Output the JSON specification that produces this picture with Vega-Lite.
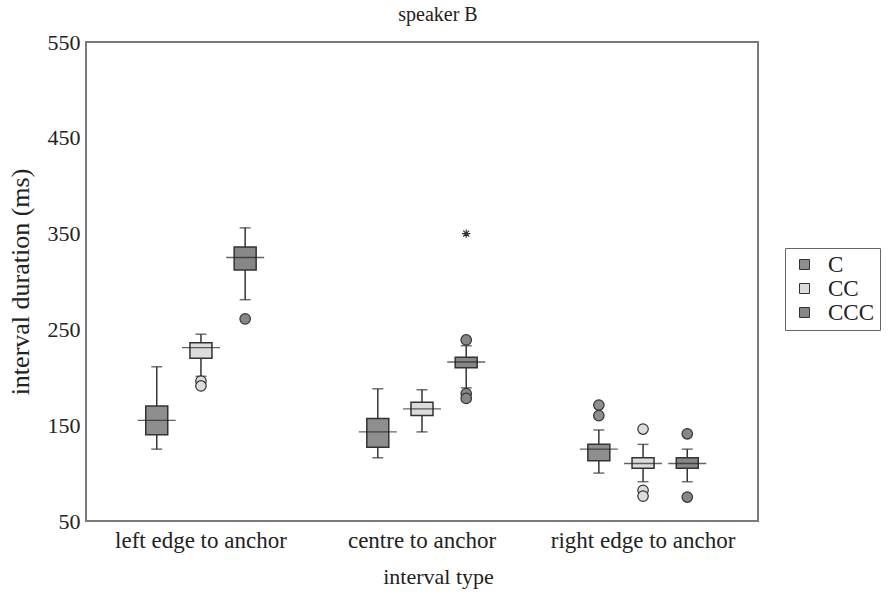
{
  "$schema": "https://vega.github.io/schema/vega-lite/v6.json",
  "width": 672,
  "height": 479,
  "autosize": {"type": "none"},
  "padding": {"left": 86, "top": 42, "right": 131, "bottom": 73},
  "background": "white",
  "title": {"text": "speaker B", "font": "Liberation Serif", "fontSize": 20, "fontWeight": "normal", "color": "#222", "offset": 6, "dx": 16},
  "datasets": {
    "boxes": [
      {"type": "left edge to anchor", "cat": "C", "lower": 125, "q1": 140, "median": 155, "q3": 170, "upper": 211},
      {"type": "left edge to anchor", "cat": "CC", "lower": 201, "q1": 220, "median": 231, "q3": 236, "upper": 245},
      {"type": "left edge to anchor", "cat": "CCC", "lower": 281, "q1": 312, "median": 325, "q3": 336, "upper": 356},
      {"type": "centre to anchor", "cat": "C", "lower": 116, "q1": 127, "median": 143, "q3": 157, "upper": 188},
      {"type": "centre to anchor", "cat": "CC", "lower": 143, "q1": 160, "median": 167, "q3": 174, "upper": 187},
      {"type": "centre to anchor", "cat": "CCC", "lower": 189, "q1": 210, "median": 216, "q3": 221, "upper": 233},
      {"type": "right edge to anchor", "cat": "C", "lower": 100, "q1": 113, "median": 125, "q3": 130, "upper": 145},
      {"type": "right edge to anchor", "cat": "CC", "lower": 91, "q1": 105, "median": 110, "q3": 116, "upper": 130},
      {"type": "right edge to anchor", "cat": "CCC", "lower": 91, "q1": 105, "median": 110, "q3": 116, "upper": 125}
    ],
    "outliers": [
      {"type": "left edge to anchor", "cat": "CC", "value": 196},
      {"type": "left edge to anchor", "cat": "CC", "value": 191},
      {"type": "left edge to anchor", "cat": "CCC", "value": 261},
      {"type": "centre to anchor", "cat": "CCC", "value": 239},
      {"type": "centre to anchor", "cat": "CCC", "value": 183},
      {"type": "centre to anchor", "cat": "CCC", "value": 178},
      {"type": "right edge to anchor", "cat": "C", "value": 171},
      {"type": "right edge to anchor", "cat": "C", "value": 160},
      {"type": "right edge to anchor", "cat": "CC", "value": 146},
      {"type": "right edge to anchor", "cat": "CC", "value": 82},
      {"type": "right edge to anchor", "cat": "CC", "value": 76},
      {"type": "right edge to anchor", "cat": "CCC", "value": 141},
      {"type": "right edge to anchor", "cat": "CCC", "value": 75}
    ],
    "extremes": [
      {"type": "centre to anchor", "cat": "CCC", "value": 350}
    ]
  },
  "encoding": {
    "x": {
      "field": "type", "type": "nominal",
      "sort": ["left edge to anchor", "centre to anchor", "right edge to anchor"],
      "scale": {"paddingInner": 0, "paddingOuter": 0.02},
      "title": "interval type",
      "axis": {"labelAngle": 0, "ticks": false, "domain": false, "labelPadding": 8, "titlePadding": 14,
               "labelLimit": 400, "titleX": 352,
               "labelFont": "Liberation Serif", "labelFontSize": 23, "labelColor": "#222",
               "titleFont": "Liberation Serif", "titleFontSize": 22, "titleFontWeight": "normal", "titleColor": "#222"}
    },
    "xOffset": {
      "field": "cat", "type": "nominal", "sort": ["C", "CC", "CCC"],
      "scale": {"paddingInner": 0, "paddingOuter": 1.07}
    }
  },
  "layer": [
    {
      "data": {"name": "boxes"},
      "mark": {"type": "rule", "color": "#333", "strokeWidth": 1.5},
      "encoding": {
        "y": {"field": "lower", "type": "quantitative"},
        "y2": {"field": "upper"}
      }
    },
    {
      "data": {"name": "boxes"},
      "mark": {"type": "tick", "color": "#333", "size": 11, "thickness": 1.5},
      "encoding": {"y": {"field": "lower", "type": "quantitative"}}
    },
    {
      "data": {"name": "boxes"},
      "mark": {"type": "tick", "color": "#333", "size": 11, "thickness": 1.5},
      "encoding": {"y": {"field": "upper", "type": "quantitative"}}
    },
    {
      "data": {"name": "boxes"},
      "mark": {"type": "bar", "width": 22, "stroke": "#333", "strokeWidth": 1.5},
      "encoding": {
        "y": {
          "field": "q1", "type": "quantitative",
          "scale": {"domain": [50, 550], "nice": false, "zero": false},
          "title": "interval duration (ms)",
          "axis": {"values": [50, 150, 250, 350, 450, 550], "grid": false, "ticks": false, "domain": false,
                   "labelPadding": 6, "titlePadding": 14,
                   "labelFont": "Liberation Serif", "labelFontSize": 22, "labelColor": "#222",
                   "titleFont": "Liberation Serif", "titleFontSize": 26, "titleFontWeight": "normal", "titleColor": "#222"}
        },
        "y2": {"field": "q3"},
        "fill": {
          "field": "cat", "type": "nominal",
          "scale": {"domain": ["C", "CC", "CCC"], "range": ["#8e8e8e", "#dcdcdc", "#878787"]},
          "legend": {
            "title": null, "orient": "none", "legendX": 699, "legendY": 206,
            "symbolType": "square", "symbolSize": 100, "symbolStrokeColor": "#333", "symbolStrokeWidth": 1,
            "symbolOffset": 3,
            "labelFont": "Liberation Serif", "labelFontSize": 23, "labelColor": "#222",
            "labelOffset": 12, "rowPadding": 0, "padding": 5, "strokeColor": "#666"
          }
        }
      }
    },
    {
      "data": {"name": "boxes"},
      "mark": {"type": "tick", "color": "#222", "size": 38, "thickness": 1.4},
      "encoding": {"y": {"field": "median", "type": "quantitative"}}
    },
    {
      "data": {"name": "outliers"},
      "mark": {"type": "point", "shape": "circle", "filled": true, "size": 110, "stroke": "#333", "strokeWidth": 1.2, "opacity": 1},
      "encoding": {
        "y": {"field": "value", "type": "quantitative"},
        "fill": {"field": "cat", "type": "nominal"}
      }
    },
    {
      "data": {"name": "extremes"},
      "mark": {"type": "point", "shape": "M0,-1L0,1M-1,0L1,0M-0.7,-0.7L0.7,0.7M-0.7,0.7L0.7,-0.7", "filled": false, "size": 70, "color": "#333", "strokeWidth": 1.2, "opacity": 1},
      "encoding": {
        "y": {"field": "value", "type": "quantitative"}
      }
    }
  ],
  "config": {
    "view": {"stroke": "#7a7a7a", "strokeWidth": 2}
  }
}
